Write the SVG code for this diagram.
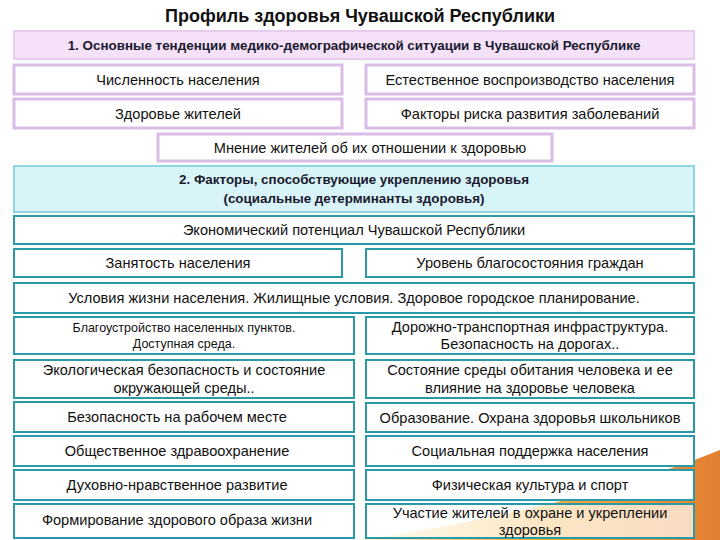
<svg xmlns="http://www.w3.org/2000/svg" width="720" height="540" viewBox="0 0 720 540">
<style>
text{font-family:"Liberation Sans",Arial,sans-serif;fill:#111;text-anchor:middle}
.t{font-size:14.6px}
.h{font-size:13.4px;font-weight:bold;fill:#1a1a2e}
.p rect{fill:#fff;stroke:#d9bde6;stroke-width:3}
.ph rect{fill:#f5e1f8;stroke:#e6cdee;stroke-width:2}
.c rect{fill:#fff;stroke:#2a9aa8;stroke-width:2}
.ch rect{fill:#d9f4f8;stroke:#8ed6e0;stroke-width:2}
</style>
<defs><linearGradient id="g" x1="0" y1="0" x2="1" y2="0"><stop offset="0" stop-color="#fff4d0"/><stop offset="0.5" stop-color="#f5a623"/><stop offset="1" stop-color="#e0701a"/></linearGradient></defs>
<rect width="720" height="540" fill="#fff"/>
<path d="M360,540 C500,520 620,490 720,450 L720,540 Z" fill="url(#g)" opacity="0.9"/>
<text x="360" y="22" style="font-size:18px;font-weight:bold">Профиль здоровья Чувашской Республики</text>
<g id="h1" class="ph"><rect x="14" y="31" width="680" height="28"/><text class="h" x="354" y="50">1. Основные тенденции медико-демографической ситуации в Чувашской Республике</text></g>
<g id="n1" class="p"><rect x="14" y="65" width="328" height="29"/><text class="t" x="178" y="85">Численность населения</text></g>
<g id="n2" class="p"><rect x="366" y="65" width="328" height="29"/><text class="t" x="530" y="85">Естественное воспроизводство населения</text></g>
<g id="n3" class="p"><rect x="14" y="99" width="328" height="29"/><text class="t" x="178" y="119">Здоровье жителей</text></g>
<g id="n4" class="p"><rect x="366" y="99" width="328" height="29"/><text class="t" x="530" y="119">Факторы риска развития заболеваний</text></g>
<g id="n5" class="p"><rect x="158" y="134" width="394" height="27"/><text class="t" x="370" y="153">Мнение жителей  об их отношении к здоровью</text></g>
<g id="h2" class="ch"><rect x="14" y="166" width="680" height="46"/><text class="h" x="354" y="184">2. Факторы, способствующие укреплению здоровья</text><text class="h" x="354" y="203">(социальные детерминанты здоровья)</text></g>
<g id="n6" class="c"><rect x="14" y="216" width="680" height="28"/><text class="t" x="354" y="235">Экономический потенциал Чувашской Республики</text></g>
<g id="n7" class="c"><rect x="14" y="249" width="328" height="28"/><text class="t" x="178" y="268">Занятость населения</text></g>
<g id="n8" class="c"><rect x="366" y="249" width="328" height="28"/><text class="t" x="530" y="268">Уровень благосостояния граждан</text></g>
<g id="n9" class="c"><rect x="14" y="283" width="680" height="30"/><text class="t" x="354" y="303">Условия жизни населения. Жилищные условия.  Здоровое городское планирование.</text></g>
<g id="n10" class="c"><rect x="14" y="317" width="340" height="37"/><text x="184" y="332" style="font-size:12.5px">Благоустройство населенных пунктов.</text><text x="184" y="348" style="font-size:12.5px">Доступная среда.</text></g>
<g id="n11" class="c"><rect x="366" y="317" width="328" height="37"/><text class="t" x="530" y="332">Дорожно-транспортная инфраструктура.</text><text class="t" x="530" y="349">Безопасность  на дорогах..</text></g>
<g id="n12" class="c"><rect x="14" y="360" width="340" height="38"/><text class="t" x="184" y="375">Экологическая безопасность и состояние</text><text class="t" x="184" y="393">окружающей среды..</text></g>
<g id="n13" class="c"><rect x="366" y="360" width="328" height="38"/><text class="t" x="530" y="375">Состояние среды обитания человека и ее</text><text class="t" x="530" y="393">влияние на здоровье человека</text></g>
<g id="n14" class="c"><rect x="14" y="402" width="340" height="30"/><text class="t" x="177" y="422">Безопасность на рабочем месте</text></g>
<g id="n15" class="c"><rect x="366" y="403" width="328" height="29"/><text class="t" x="530" y="423">Образование. Охрана здоровья школьников</text></g>
<g id="n16" class="c"><rect x="14" y="436" width="340" height="30"/><text class="t" x="177" y="456">Общественное здравоохранение</text></g>
<g id="n17" class="c"><rect x="366" y="436" width="328" height="30"/><text class="t" x="530" y="456">Социальная поддержка населения</text></g>
<g id="n18" class="c"><rect x="14" y="470" width="340" height="30"/><text class="t" x="177" y="490">Духовно-нравственное развитие</text></g>
<g id="n19" class="c"><rect x="366" y="470" width="328" height="30"/><text class="t" x="530" y="490">Физическая культура и спорт</text></g>
<g id="n20" class="c"><rect x="14" y="504" width="340" height="34"/><text class="t" x="177" y="525">Формирование здорового образа жизни</text></g>
<g id="n21" class="c"><rect x="366" y="504" width="328" height="34" fill-opacity="0.7"/><text class="t" x="530" y="518">Участие жителей в охране и укреплении</text><text class="t" x="530" y="535">здоровья</text></g>
<g id="connectors"/>
</svg>
